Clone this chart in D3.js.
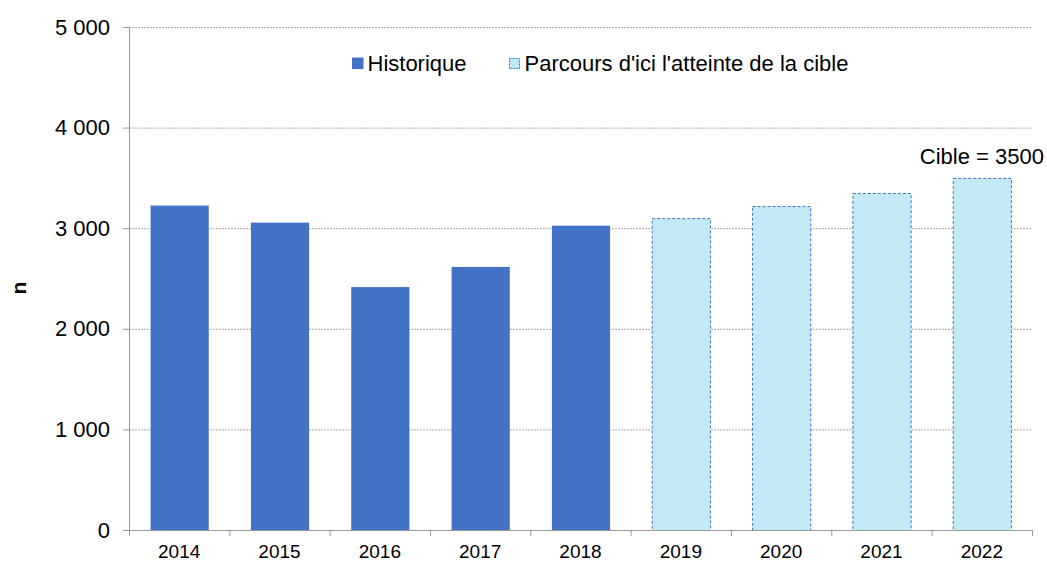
<!DOCTYPE html>
<html>
<head>
<meta charset="utf-8">
<script src="https://cdn.jsdelivr.net/npm/d3@7"></script>
<style>
  body { margin: 0; background: #fff; }
  text { font-family: "Liberation Sans", Arial, sans-serif; fill: #000; }
</style>
</head>
<body>
<svg id="chart" width="1047" height="561"></svg>
<script>
// data
var years = ["2014", "2015", "2016", "2017", "2018", "2019", "2020", "2021", "2022"];
var values = [3230, 3060, 2420, 2620, 3030, 3100, 3220, 3350, 3500];
var kinds = ["hist", "hist", "hist", "hist", "hist", "path", "path", "path", "path"];
var yTicks = [0, 1000, 2000, 3000, 4000, 5000];
var legendLabels = ["Historique", "Parcours d'ici l'atteinte de la cible"];
var targetLabel = "Cible = 3500";

var svg = d3.select("#chart"),
    margin = {top: 27, right: 15, bottom: 31, left: 129},
    width = 1047 - margin.left - margin.right,
    height = 561 - margin.top - margin.bottom,
    g = svg.append("g").attr("transform", "translate(" + margin.left + "," + margin.top + ")");

var x = d3.scaleBand().domain(years).range([0, width]).paddingInner(0.42).paddingOuter(0.21);
var y = d3.scaleLinear().domain([0, 5000]).range([height, 0]);
var fmt = function(d) { return d3.format(",")(d).replace(/,/g, " "); };

// gridlines
g.append("g")
  .selectAll("line")
  .data(yTicks.filter(function(d) { return d > 0; }))
  .join("line")
    .attr("x1", 0).attr("x2", width)
    .attr("y1", function(d) { return y(d) + 0.5; })
    .attr("y2", function(d) { return y(d) + 0.5; })
    .attr("stroke", "#aaa").attr("stroke-dasharray", "2,1").attr("stroke-width", 1);

// bars
g.append("g")
  .selectAll("rect")
  .data(years)
  .join("rect")
    .attr("x", function(d) { return x(d) + 0.5; })
    .attr("y", function(d, i) { return y(values[i]) + 0.5; })
    .attr("width", x.bandwidth())
    .attr("height", function(d, i) { return height - y(values[i]); })
    .attr("fill", function(d, i) { return kinds[i] == "hist" ? "#4472c4" : "#bde7f5"; })
    .attr("fill-opacity", function(d, i) { return kinds[i] == "hist" ? 1 : 0.92; })
    .attr("stroke", function(d, i) { return kinds[i] == "hist" ? "none" : "#4472c4"; })
    .attr("stroke-dasharray", "3,2")
    .attr("stroke-width", 1);

// y axis
var yAxis = g.append("g")
  .call(d3.axisLeft(y).tickValues(yTicks).tickFormat(fmt).tickSize(6).tickPadding(13));
yAxis.select(".domain").attr("stroke", "#999");
yAxis.selectAll(".tick line").attr("stroke", "#999");
yAxis.selectAll("text").style("font-size", "22px");

// x axis
var xAxis = g.append("g")
  .attr("transform", "translate(0," + height + ")")
  .call(d3.axisBottom(x).tickSize(0).tickPadding(15));
xAxis.select(".domain").attr("stroke", "#999");
xAxis.selectAll("text").style("font-size", "19px");
xAxis.append("g")
  .selectAll("line")
  .data(d3.range(years.length + 1))
  .join("line")
    .attr("x1", function(i) { return i * x.step() + 0.5; })
    .attr("x2", function(i) { return i * x.step() + 0.5; })
    .attr("y1", 0).attr("y2", 6)
    .attr("stroke", "#999");

// y title
svg.append("text")
  .attr("transform", "translate(26,288) rotate(-90)")
  .attr("text-anchor", "middle")
  .style("font-size", "21px").style("font-weight", "bold")
  .text("n");

// target label
g.append("text")
  .attr("x", x("2022") + x.bandwidth() / 2)
  .attr("y", y(3500) - 14)
  .attr("text-anchor", "middle")
  .style("font-size", "22px")
  .text(targetLabel);

// legend
var legend = svg.append("g");
legend.append("rect").attr("x", 352).attr("y", 57.5).attr("width", 11.5).attr("height", 11.5).attr("fill", "#4472c4");
legend.append("text").attr("x", 367.5).attr("y", 71).style("font-size", "22px").text(legendLabels[0]);
legend.append("rect").attr("x", 509.5).attr("y", 58.5).attr("width", 10).attr("height", 10)
  .attr("fill", "#bde7f5").attr("stroke", "#4472c4").attr("stroke-dasharray", "2,1");
legend.append("text").attr("x", 524.5).attr("y", 71).style("font-size", "22px").text(legendLabels[1]);
</script>
</body>
</html>
